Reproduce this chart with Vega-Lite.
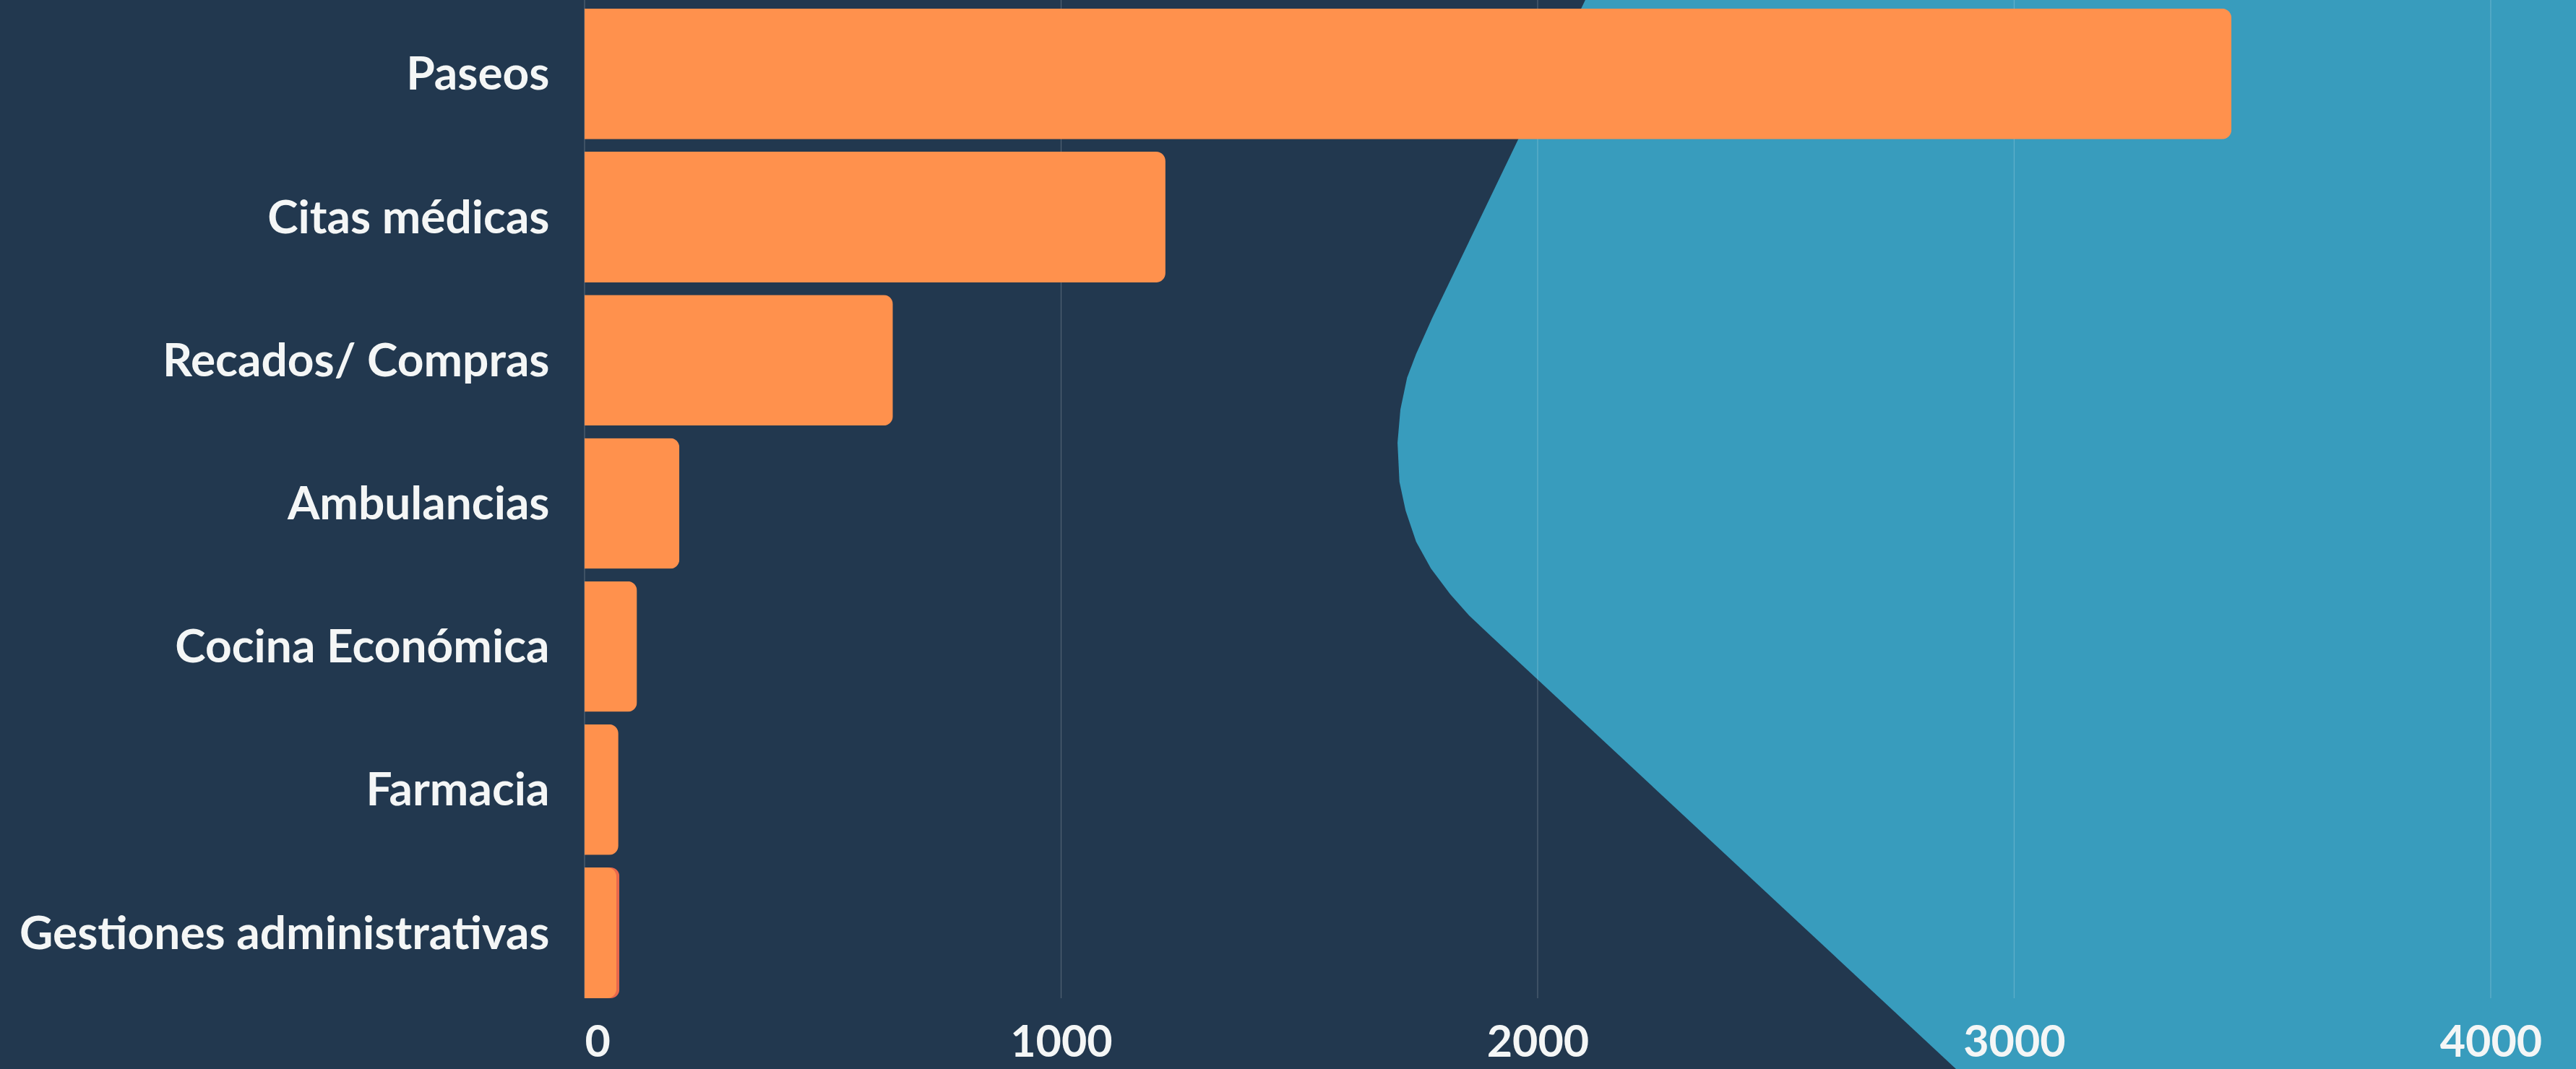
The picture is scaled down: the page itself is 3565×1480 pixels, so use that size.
{
  "$schema": "https://vega.github.io/schema/vega-lite/v6.json",
  "width": 2756,
  "height": 1382,
  "autosize": {"type": "none"},
  "padding": {"left": 809, "right": 0, "top": 0, "bottom": 98},
  "background": "#22384f",
  "config": {
    "view": {"stroke": null},
    "axis": {"title": null, "grid": false, "ticks": false, "domain": false, "labelColor": "#f4f6f6", "labelFont": "Lato", "labelFontWeight": "bold", "labelFontSize": 64, "labelLimit": 1200}
  },
  "datasets": {
    "forma": [
      {"sx": 2100, "sy": 0},
      {"sx": 1779, "sy": 440},
      {"sx": 1745, "sy": 490},
      {"sx": 1726, "sy": 523},
      {"sx": 1712, "sy": 567},
      {"sx": 1706, "sy": 613},
      {"sx": 1710, "sy": 667},
      {"sx": 1723, "sy": 707},
      {"sx": 1745, "sy": 750},
      {"sx": 1776, "sy": 787},
      {"sx": 1817, "sy": 823},
      {"sx": 1856, "sy": 852},
      {"sx": 1901, "sy": 880},
      {"sx": 2878, "sy": 1480}
    ],
    "rejilla": [{"g": 0}, {"g": 1000}, {"g": 2000}, {"g": 3000}, {"g": 4000}],
    "servicios": [
      {"actividad": "Paseos", "valor": 3456},
      {"actividad": "Citas médicas", "valor": 1219},
      {"actividad": "Recados/ Compras", "valor": 647},
      {"actividad": "Ambulancias", "valor": 199},
      {"actividad": "Cocina Económica", "valor": 110},
      {"actividad": "Farmacia", "valor": 71},
      {"actividad": "Gestiones administrativas", "valor": 67}
    ],
    "extra": [
      {"actividad": "Gestiones administrativas", "valor": 73}
    ]
  },
  "layer": [
    {
      "data": {"name": "forma"},
      "mark": {"type": "area", "orient": "horizontal", "color": "#389cbd", "clip": false},
      "encoding": {
        "y": {"field": "sy", "type": "quantitative", "scale": {"domain": [0, 1382], "reverse": true, "nice": false, "zero": false}, "axis": null},
        "x": {"field": "sx", "type": "quantitative", "scale": {"domain": [0, 4179], "nice": false}, "axis": {"values": [0, 1000, 2000, 3000, 4000], "format": "d", "labelPadding": 32, "labelFontSize": 61, "zindex": 1}},
        "x2": {"datum": 4300}
      }
    },
    {
      "data": {"name": "rejilla"},
      "mark": {"type": "rule", "color": "#ffffff", "opacity": 0.2, "strokeWidth": 1.3},
      "encoding": {
        "x": {"field": "g", "type": "quantitative", "axis": {"values": [0, 1000, 2000, 3000, 4000], "format": "d", "labelPadding": 32, "labelFontSize": 61, "zindex": 1}}
      }
    },
    {
      "layer": [
        {
          "data": {"name": "extra"},
          "mark": {"type": "bar", "color": "#e9684b", "cornerRadiusEnd": 12},
          "encoding": {
            "y": {"field": "actividad", "type": "nominal", "sort": null, "scale": {"domain": ["Paseos", "Citas médicas", "Recados/ Compras", "Ambulancias", "Cocina Económica", "Farmacia", "Gestiones administrativas"], "paddingInner": 0.087, "paddingOuter": 0.03, "align": 1}, "axis": {"labelPadding": 49, "labelOffset": 3}},
            "x": {"field": "valor", "type": "quantitative", "axis": {"values": [0, 1000, 2000, 3000, 4000], "format": "d", "labelPadding": 32, "labelFontSize": 61, "zindex": 1}}
          }
        },
        {
          "data": {"name": "servicios"},
          "mark": {"type": "bar", "color": "#ff914d", "cornerRadiusEnd": 13},
          "encoding": {
            "y": {"field": "actividad", "type": "nominal", "sort": null, "scale": {"domain": ["Paseos", "Citas médicas", "Recados/ Compras", "Ambulancias", "Cocina Económica", "Farmacia", "Gestiones administrativas"], "paddingInner": 0.087, "paddingOuter": 0.03, "align": 1}, "axis": {"labelPadding": 49, "labelOffset": 3}},
            "x": {"field": "valor", "type": "quantitative", "axis": {"values": [0, 1000, 2000, 3000, 4000], "format": "d", "labelPadding": 32, "labelFontSize": 61, "zindex": 1}}
          }
        }
      ]
    }
  ],
  "resolve": {"scale": {"y": "independent"}, "axis": {"y": "independent"}}
}
